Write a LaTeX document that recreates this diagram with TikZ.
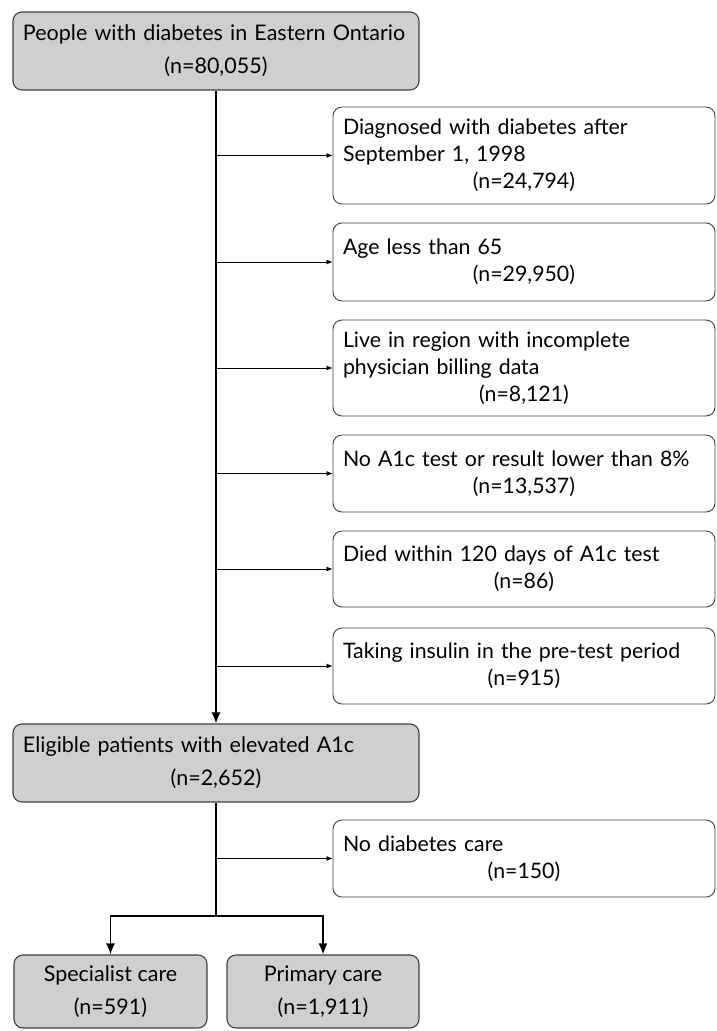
\documentclass[tikz,border=0pt]{standalone}
\usepackage{fontspec}
\setmainfont{Lato}
\usetikzlibrary{arrows.meta}
\newcommand{\ctrline}[1]{\makebox[\hsize][c]{#1}}
\begin{document}
\begin{tikzpicture}[x=1bp,y=-1bp,
  graybox/.style={draw=black!75, line width=1.1bp, fill=gray!38, rounded corners=9bp,
    minimum width=406bp, minimum height=78bp, inner xsep=10bp, inner ysep=0bp,
    text width=386bp, align=left, font=\fontsize{21.5bp}{33bp}\selectfont},
  exbox/.style={draw=black!75, line width=0.9bp, fill=white, rounded corners=9bp,
    minimum width=382bp, inner xsep=10bp, inner ysep=0bp,
    text width=362bp, align=left, font=\fontsize{21.3bp}{27bp}\selectfont},
  carebox/.style={draw=black!75, line width=1.1bp, fill=gray!38, rounded corners=9bp,
    minimum height=73bp, inner sep=0bp, align=center, font=\fontsize{21.5bp}{33bp}\selectfont},
  thinarrow/.style={line width=0.8bp, -{Latex[length=6bp,width=5bp]}},
  mainarrow/.style={line width=1.6bp, -{Latex[length=11bp,width=9bp]}},
  mainline/.style={line width=1.6bp}
]
\useasboundingbox (0,0) rectangle (717,1031);

\node[graybox] (top) at (216,51) {People with diabetes in Eastern Ontario\\\ctrline{(n=80,055)}};

\node[exbox, minimum height=97bp] (b1) at (524,155.5) {Diagnosed with diabetes after\\September 1, 1998\\\ctrline{(n=24,794)}};
\node[exbox, minimum height=78bp] (b2) at (524,262) {Age less than 65\\\ctrline{(n=29,950)}};
\node[exbox, minimum height=96bp] (b3) at (524,368) {Live in region with incomplete\\physician billing data\\\ctrline{(n=8,121)}};
\node[exbox, minimum height=77bp] (b4) at (524,473.5) {No A1c test or result lower than 8\%\\\ctrline{(n=13,537)}};
\node[exbox, minimum height=76bp] (b5) at (524,569) {Died within 120 days of A1c test\\\ctrline{(n=86)}};
\node[exbox, minimum height=76bp] (b6) at (524,666) {Taking insulin in the pre-test period\\\ctrline{(n=915)}};

\node[graybox] (elig) at (216,763) {Eligible patients with elevated A1c\\\ctrline{(n=2,652)}};

\node[exbox, minimum height=77bp] (nocare) at (524,858.5) {No diabetes care\\\ctrline{(n=150)}};

\node[carebox, minimum width=193bp] (spec) at (110.5,991.5) {Specialist care\\(n=591)};
\node[carebox, minimum width=192bp] (prim) at (323,991.5) {Primary care\\(n=1,911)};

\draw[mainarrow] (top.south) -- (elig.north);
\foreach \b in {b1,b2,b3,b4,b5,b6}
  \draw[thinarrow] (top.south |- \b.west) -- (\b.west);

\coordinate (split) at (216,916);
\draw[mainline] (elig.south) -- (split);
\draw[thinarrow] (elig.south |- nocare.west) -- (nocare.west);
\draw[mainarrow] (split) -| (spec.north);
\draw[mainarrow] (split) -| (prim.north);
\end{tikzpicture}
\end{document}
